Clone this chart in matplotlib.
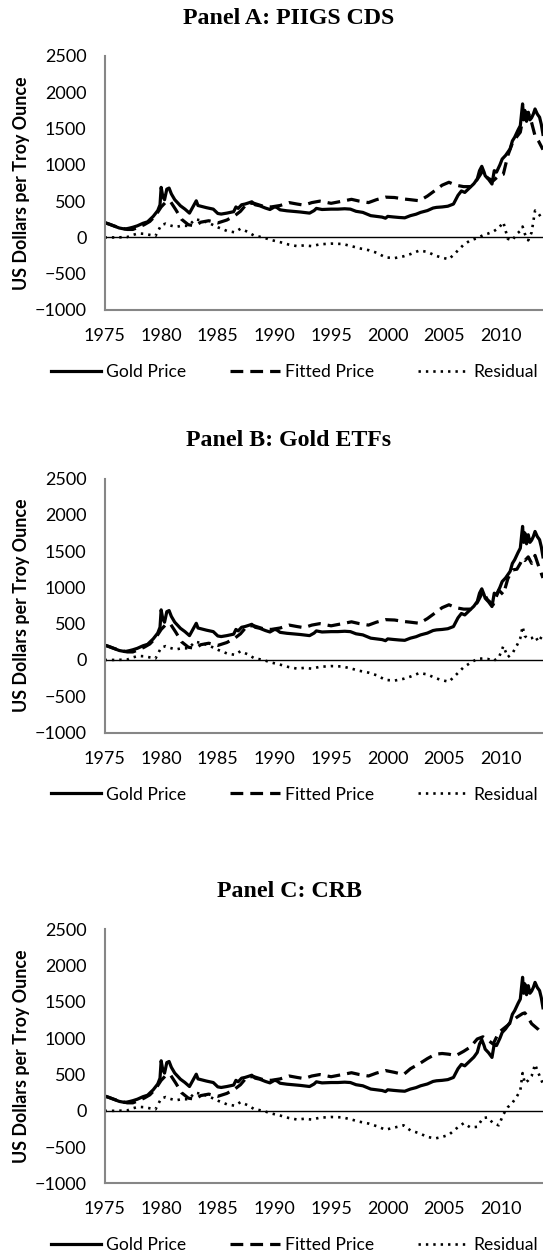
#!/usr/bin/env python
# gold price vs fitted price and residual, three model panels
import matplotlib
matplotlib.use('Agg')
import matplotlib.pyplot as plt

# gold price (same in every panel)
gold_years = [1975.0, 1975.4, 1975.8, 1976.3, 1976.8, 1977.2, 1977.5, 1977.9, 1978.4, 1978.8,
              1979.3, 1979.7, 1979.9, 1980.0, 1980.15, 1980.3, 1980.5, 1980.7, 1980.9, 1981.2,
              1981.5, 1981.7, 1982.1, 1982.5, 1982.8, 1983.1, 1983.25, 1983.5, 1984.0, 1984.6,
              1985.0, 1985.3, 1985.8, 1986.4, 1986.6, 1986.8, 1987.1, 1987.4, 1987.8, 1988.0,
              1988.3, 1988.7, 1989.2, 1989.6, 1990.0, 1990.2, 1990.5, 1991.1, 1991.6, 1992.3,
              1993.1, 1993.5, 1993.7, 1994.2, 1995.0, 1995.6, 1996.2, 1996.7, 1997.2, 1997.8,
              1998.5, 1999.0, 1999.5, 1999.8, 2000.0, 2000.5, 2001.0, 2001.5, 2002.0, 2002.5,
              2002.9, 2003.5, 2004.0, 2004.3, 2004.8, 2005.3, 2005.8, 2006.2, 2006.5, 2006.8,
              2007.2, 2007.6, 2007.9, 2008.1, 2008.3, 2008.5, 2008.6, 2008.9, 2009.2, 2009.4,
              2009.6, 2009.9, 2010.1, 2010.4, 2010.8, 2011.0, 2011.2, 2011.5, 2011.7, 2011.9,
              2012.0, 2012.1, 2012.25, 2012.4, 2012.55, 2012.7, 2012.85, 2013.0, 2013.2, 2013.4,
              2013.55, 2013.7]
gold = [205, 185, 160, 130, 115, 128, 140, 160, 195, 215,
        290, 370, 450, 690, 560, 520, 665, 680, 600, 520,
        470, 436, 390, 335, 420, 505, 440, 430, 410, 390,
        330, 322, 335, 355, 420, 400, 450, 460, 480, 491,
        450, 436, 405, 385, 420, 414, 380, 367, 360, 350,
        335, 370, 400, 385, 390, 390, 395, 390, 360, 345,
        300, 290, 280, 265, 290, 282, 275, 270, 300, 320,
        345, 370, 405, 414, 420, 430, 460, 580, 640, 620,
        680, 740, 805, 920, 980, 900, 850, 800, 736, 920,
        900, 1000, 1080, 1130, 1220, 1330, 1380, 1480, 1540, 1840,
        1620, 1750, 1600, 1725, 1620, 1650, 1700, 1770, 1700, 1656,
        1560, 1420]

# fitted price and residual, common time points
fr_years = [1975.0, 1976.0, 1977.0, 1977.5, 1978.0, 1978.5, 1979.0, 1979.5, 1980.0, 1980.4,
            1980.8, 1981.3, 1981.8, 1982.4, 1983.0, 1983.5, 1984.2, 1985.0, 1985.8, 1986.5,
            1987.0, 1987.6, 1988.2, 1989.0, 1989.7, 1990.5, 1991.3, 1992.0, 1992.6, 1993.3,
            1994.0, 1995.0, 1996.0, 1996.8, 1997.5, 1998.3, 1999.0, 1999.8, 2000.6, 2001.4,
            2002.0, 2002.8, 2003.5, 2004.2, 2004.8, 2005.4, 2006.0, 2006.7, 2007.3, 2007.9,
            2008.4, 2008.8, 2009.3, 2009.8, 2010.2, 2010.6, 2011.0, 2011.4, 2011.7, 2011.9,
            2012.1, 2012.4, 2012.7, 2013.0, 2013.3, 2013.7]

fitted_a = [205, 150, 110, 110, 140, 175, 220, 300, 420, 485,
            500, 380, 250, 175, 160, 210, 230, 200, 240, 300,
            360, 470, 470, 430, 420, 440, 480, 460, 445, 480,
            500, 470, 500, 525, 500, 480, 520, 555, 550, 530,
            520, 505, 570, 650, 720, 760, 720, 700, 700, 800,
            920, 820, 780, 850, 870, 1130, 1300, 1390, 1450, 1620,
            1700, 1720, 1580, 1400, 1330, 1210]
resid_a = [0, 0, 5, 35, 55, 50, 35, 20, 170, 190,
           165, 145, 160, 160, 250, 235, 200, 140, 90, 70,
           120, 80, 25, 0, -35, -65, -100, -120, -110, -120,
           -95, -85, -90, -120, -150, -175, -210, -275, -285, -260,
           -230, -180, -200, -250, -280, -300, -210, -100, -40, -10,
           30, 50, 80, 130, 210, -20, -40, 50, 90, 150,
           50, -40, 70, 370, 330, 240]

fitted_b = [205, 150, 110, 110, 140, 175, 220, 300, 420, 485,
            500, 380, 250, 175, 160, 210, 230, 200, 240, 300,
            360, 470, 470, 430, 420, 440, 480, 460, 445, 480,
            500, 470, 500, 525, 500, 480, 520, 555, 550, 530,
            520, 505, 570, 650, 720, 760, 720, 700, 700, 790,
            940, 830, 760, 960, 900, 1120, 1240, 1250, 1330, 1400,
            1370, 1420, 1330, 1440, 1300, 1130]
resid_b = [0, 0, 5, 35, 55, 50, 35, 20, 170, 190,
           165, 145, 160, 160, 250, 235, 200, 140, 90, 70,
           120, 80, 25, 0, -35, -65, -100, -120, -110, -120,
           -95, -85, -90, -120, -150, -175, -210, -275, -285, -260,
           -230, -180, -200, -250, -280, -300, -210, -100, -40, 15,
           20, 15, -15, 30, 190, 40, 90, 200, 300, 460,
           330, 290, 300, 330, 250, 350]

fitted_c = [205, 150, 110, 110, 140, 175, 220, 300, 420, 485,
            500, 380, 250, 175, 160, 210, 230, 200, 240, 300,
            360, 470, 470, 430, 420, 440, 480, 460, 445, 480,
            500, 470, 500, 525, 500, 480, 520, 555, 530, 500,
            580, 650, 720, 780, 790, 780, 760, 820, 880, 990,
            1020, 980, 920, 1080, 1130, 1180, 1240, 1290, 1320, 1340,
            1350, 1280, 1200, 1160, 1120, 1050]
resid_c = [0, 0, 5, 35, 55, 50, 35, 20, 170, 190,
           165, 145, 160, 160, 250, 235, 200, 140, 90, 70,
           120, 80, 25, 0, -35, -65, -100, -120, -110, -120,
           -95, -85, -90, -120, -150, -175, -210, -260, -230, -200,
           -270, -310, -360, -380, -360, -330, -250, -170, -230, -220,
           -100, -90, -170, -200, -50, 50, 110, 200, 280, 520,
           380, 420, 480, 640, 520, 370]

titles = ['Panel A: PIIGS CDS', 'Panel B: Gold ETFs', 'Panel C: CRB']
fitted_all = [fitted_a, fitted_b, fitted_c]
resid_all = [resid_a, resid_b, resid_c]

W, H = 543, 1256
# vertical offset (px) of each panel relative to panel A
offsets = [0, 422.5, 873.4]

sans = 'Lato'
fig = plt.figure(figsize=(W / 100, H / 100), dpi=100)

for title, fitted, resid, off in zip(titles, fitted_all, resid_all, offsets):
    top = 56 + off
    bottom = 310 + off
    ax = fig.add_axes([104.5 / W, 1 - bottom / H, (W - 104.5) / W, (bottom - top) / H])
    ax.plot(gold_years, gold, color='black', lw=2.3, solid_joinstyle='round', label='Gold Price')
    ax.plot(fr_years, fitted, color='black', lw=2.3, linestyle=(0, (4, 2.2)), label='Fitted Price')
    ax.plot(fr_years, resid, color='black', lw=1.9, linestyle=(0, (0.9, 1.9)), label='Residual')
    ax.axhline(0, color='black', lw=1)
    ax.set_xlim(1975, 1975 + (W - 104.5) / 11.33)
    ax.set_ylim(-1000, 2500)
    ax.set_xticks(range(1975, 2011, 5))
    ax.set_yticks(range(-1000, 2501, 500))
    ax.tick_params(length=0, labelsize=13)
    ax.tick_params(axis='y', pad=13)
    ax.tick_params(axis='x', pad=13)
    for lab in ax.get_xticklabels() + ax.get_yticklabels():
        lab.set_fontfamily(sans)
    for s in ['top', 'right']:
        ax.spines[s].set_visible(False)
    for s in ['left', 'bottom']:
        ax.spines[s].set_color('#868686')
        ax.spines[s].set_linewidth(1.5)

    fig.text(289 / W, 1 - (18 + off) / H, title, ha='center', va='center',
             fontfamily='Liberation Serif', fontweight='bold', fontsize=17.2)
    fig.text(22 / W, 1 - (183 + off) / H, 'US Dollars per Troy Ounce', rotation=90,
             ha='center', va='center', fontfamily=sans, fontweight='bold', fontsize=12.9)

    handles, labels = ax.get_legend_handles_labels()
    fig.legend(handles, labels, loc='center', bbox_to_anchor=(294.5 / W, 1 - (372 + off) / H),
               ncol=3, frameon=False, handlelength=2.86, handletextpad=0.31,
               columnspacing=2.5, borderpad=0, prop={'family': sans, 'size': 12.6})

fig.savefig('out.png', dpi=100)
